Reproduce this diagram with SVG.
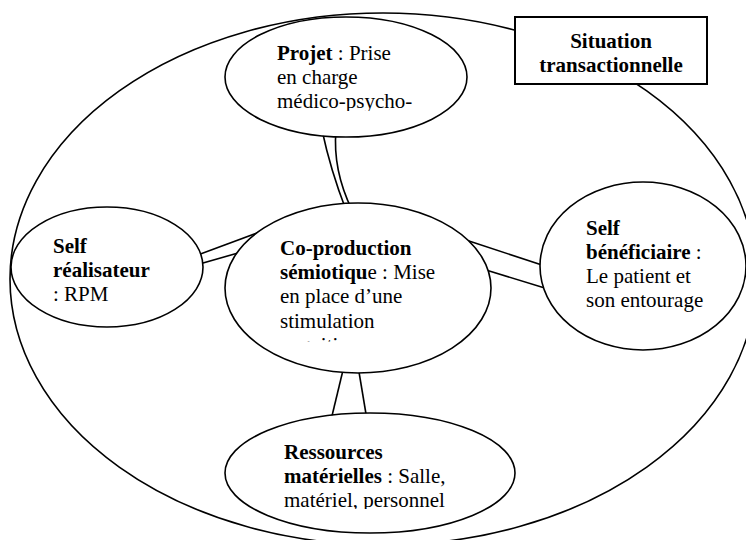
<svg xmlns="http://www.w3.org/2000/svg" width="746" height="540" viewBox="0 0 746 540">
<style>
.n{fill:#fff;stroke:#000;stroke-width:1.6}
.c{fill:none;stroke:#000;stroke-width:1.6}
.t{font-family:'Liberation Serif',serif;font-size:21px;fill:#000}
.b{font-weight:bold}
</style>
<defs>
<clipPath id="clipProjet"><rect x="200" y="0" width="300" height="111"/></clipPath>
<clipPath id="clipCoprod"><rect x="200" y="180" width="320" height="161.5"/></clipPath>
<clipPath id="clipRes"><rect x="200" y="400" width="330" height="109"/></clipPath>
</defs>
<rect width="746" height="540" fill="#fff"/>
<g id="situation">
<ellipse cx="383" cy="279" rx="373" ry="266" class="c"/>
<rect x="515" y="17" width="192" height="67" fill="#fff" stroke="#000" stroke-width="2"/>
<text class="t b" font-family="Liberation Serif, serif" text-anchor="middle"><tspan x="611" y="48">Situation</tspan><tspan x="611" y="72">transactionnelle</tspan></text>
</g>
<g id="connectors">
<path class="c" d="M322,130 Q330.5,170 346,210"/>
<path class="c" d="M336,130 Q332.5,170 352,210"/>
<path class="c" d="M195,256 L265,230"/>
<path class="c" d="M196,265 L245,251"/>
<path class="c" d="M466,240 L548,267"/>
<path class="c" d="M486,270 L548,289"/>
<path class="c" d="M344,366 L331,420"/>
<path class="c" d="M358,366 L367,420"/>
</g>
<g id="projet">
<ellipse cx="346" cy="77" rx="121" ry="60" class="n"/>
<text class="t" font-family="Liberation Serif, serif" clip-path="url(#clipProjet)"><tspan x="277" y="60"><tspan class="b">Projet</tspan> : Prise</tspan><tspan x="277" y="84">en charge</tspan><tspan x="277" y="108">médico-psycho-</tspan></text>
</g>
<g id="coproduction">
<ellipse cx="358" cy="288" rx="133" ry="85" class="n"/>
<text class="t" font-family="Liberation Serif, serif" clip-path="url(#clipCoprod)"><tspan x="280" y="255" class="b">Co-production</tspan><tspan x="280" y="279"><tspan class="b">sémiotiqu</tspan>e : Mise</tspan><tspan x="280" y="303">en place d’une</tspan><tspan x="280" y="328">stimulation</tspan><tspan x="280" y="352">cognitive</tspan></text>
</g>
<g id="realisateur">
<ellipse cx="107" cy="267" rx="96" ry="60" class="n"/>
<text class="t" font-family="Liberation Serif, serif"><tspan x="53" y="253" class="b">Self</tspan><tspan x="53" y="277" class="b">réalisateur</tspan><tspan x="53" y="301">: RPM</tspan></text>
</g>
<g id="beneficiaire">
<ellipse cx="643" cy="266" rx="103" ry="84" class="n"/>
<text class="t" font-family="Liberation Serif, serif"><tspan x="586" y="235" class="b">Self</tspan><tspan x="586" y="259"><tspan class="b">bénéficiaire</tspan> :</tspan><tspan x="586" y="283">Le patient et</tspan><tspan x="586" y="307">son entourage</tspan></text>
</g>
<g id="ressources">
<ellipse cx="370" cy="473" rx="145" ry="60" class="n"/>
<text class="t" font-family="Liberation Serif, serif" clip-path="url(#clipRes)"><tspan x="284" y="459" class="b">Ressources</tspan><tspan x="284" y="483"><tspan class="b">matérielles</tspan> : Salle,</tspan><tspan x="284" y="507">matériel, personnel</tspan></text>
</g>
</svg>
